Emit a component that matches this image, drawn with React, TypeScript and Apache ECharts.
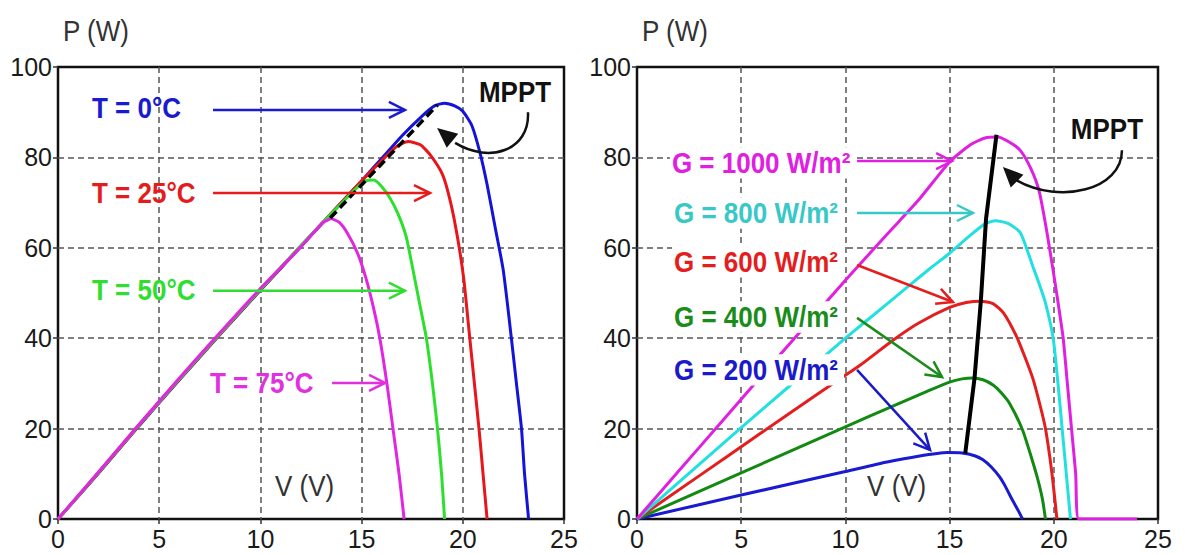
import React, { useEffect, useRef } from "react";
import * as echarts from "echarts";

const FONT = '"Liberation Sans", Arial, Helvetica, sans-serif';

// ---- Left chart: P–V curves for several temperatures ----
const t0Curve = [[0,0],[2,10.1],[4,20.6],[6,30.8],[8,40.8],[10,50.6],[12,60.3],[14,70],[15,74.8],[16,79.8],[17,84.8],[18,89.2],[18.6,91.4],[19.1,92],[19.6,91.4],[20,90.2],[20.45,87],[20.85,81],[21.2,74],[21.6,64.5],[22,55],[22.4,40],[22.65,30],[22.9,20],[23.05,10],[23.25,0]];
const t25Curve = [[0,0],[2,10.2],[4,20.7],[6,30.9],[8,40.9],[10,50.7],[12,60.4],[14,70],[15,74.8],[16,79.3],[16.7,82.3],[17.3,83.5],[17.9,82.8],[18.4,80.5],[19,76.2],[19.4,70],[19.75,62],[20.05,53],[20.3,42],[20.55,31],[20.8,20],[21.0,10],[21.2,0]];
const t50Curve = [[0,0],[2,10.3],[4,20.8],[6,31],[8,41],[10,50.8],[12,60.5],[13,65.2],[14,69.8],[14.7,73],[15.2,74.8],[15.6,75],[16,73.5],[16.4,71],[16.8,67.5],[17.2,62.5],[17.5,56],[17.85,48],[18.2,40],[18.5,30],[18.75,20],[18.95,10],[19.1,0]];
const t75Curve = [[0,0],[2,10.4],[4,20.9],[6,31.2],[8,41.2],[10,51],[11,55.6],[12,60.2],[12.6,63.2],[13.1,65.6],[13.5,66.4],[13.9,65.6],[14.3,63.2],[14.8,58.8],[15.2,53.5],[15.6,46.5],[15.9,40],[16.25,30],[16.55,20],[16.85,10],[17.1,0]];
const mpptTemp = [[13.45,66.6],[18.75,91.6]];

// ---- Right chart: P–V curves for several irradiances ----
const g1000Curve = [[0,0],[2,10.6],[4,21.2],[6,31.8],[8,42.3],[10,52.8],[12,63],[13.5,70.5],[15,79],[16,82.8],[16.7,84.3],[17.3,84.5],[17.9,83.3],[18.4,81.5],[18.9,77.5],[19.3,72.5],[19.65,64],[19.95,55.5],[20.2,48],[20.45,40],[20.65,30],[20.85,20],[21.05,10],[21.2,0],[24,0]];
const g800Curve = [[0,0],[2,8.1],[4,16.2],[6,24.2],[8,32.1],[10,40],[12,47.6],[14,55.2],[15,58.8],[16,62.8],[16.7,65.3],[17.2,66],[17.8,65.4],[18.4,63.3],[19,55.8],[19.3,52],[19.6,47.8],[19.97,40],[20.2,30],[20.4,20],[20.6,10],[20.8,0]];
const g600Curve = [[0,0],[3,9.6],[6,19.2],[9,28.7],[10.7,34],[12.3,39.6],[13.5,43.3],[15,46.8],[15.8,47.9],[16.5,48.2],[17.1,47.6],[17.6,45.5],[18.2,40.5],[18.6,36],[19,31],[19.35,25],[19.6,20],[19.9,10.5],[20.15,0]];
const g400Curve = [[0,0],[5,10.2],[10,20.4],[12,24.4],[14,28.4],[15,30.3],[15.6,31],[16.1,31.2],[16.6,30.8],[17.1,29.6],[17.5,27.8],[17.9,25.4],[18.5,19.7],[18.9,14],[19.2,9.3],[19.45,4.5],[19.6,0]];
const g200Curve = [[0,0],[5,5.3],[10,10.5],[12,12.6],[13.5,13.9],[14.9,14.7],[15.6,14.6],[16.2,14],[16.6,13.1],[17,11.5],[17.4,9.3],[17.7,7],[18,4.3],[18.3,1.8],[18.5,0]];
const mpptIrr = [[15.75,14.5],[16.2,31.3],[16.5,48.3],[16.75,66.5],[17.25,85]];

// axis ranges / tick step
const xRange = [0, 25];
const xStep = 5;
const yRange = [0, 100];
const yStep = 20;

const axisTitleY = "P (W)";
const axisTitleX = "V (V)";

// annotation labels (data coordinates)
const tempLabels = [
  { text: "T = 0°C", color: "#1a1ad0", at: [1.68, 90.9], from: [7.66, 90.5], to: [17.14, 90.5] },
  { text: "T = 25°C", color: "#e41c1c", at: [1.68, 72.1], from: [7.66, 72.1], to: [18.38, 72.1] },
  { text: "T = 50°C", color: "#30dd30", at: [1.68, 50.7], from: [7.66, 50.5], to: [17.14, 50.5] },
  { text: "T = 75°C", color: "#e030e0", at: [7.51, 30.1], from: [13.54, 30.1], to: [16.16, 30.1] },
];
const irrLabels = [
  { text: "G = 1000 W/m²", color: "#e020e0", at: [1.58, 78.8], from: [10.56, 79.2], to: [15.12, 79.2] },
  { text: "G = 800 W/m²", color: "#38c8c8", at: [1.68, 67.7], from: [10.56, 67.7], to: [16.12, 67.7] },
  { text: "G = 600 W/m²", color: "#e41e1e", at: [1.68, 56.9], from: [10.56, 56.2], to: [15.16, 48.0] },
  { text: "G = 400 W/m²", color: "#1a8c1a", at: [1.68, 44.7], from: [10.56, 44.5], to: [14.64, 31.4] },
  { text: "G = 200 W/m²", color: "#1a1ac8", at: [1.68, 33.0], from: [10.56, 33.0], to: [14.06, 15.3] },
];
const mpptLeft = { text: "MPPT", at: [22.58, 94.5], start: [23.22, 90.0], cp1: [23.32, 81.6], cp2: [21.34, 78.5], end: [19.62, 83.2], tip: [18.73, 86.5] };
const mpptRight = { text: "MPPT", at: [22.55, 86.3], start: [23.27, 81.6], cp1: [23.27, 72.8], cp2: [20.3, 69.5], end: [18.19, 75.0], tip: [17.56, 77.9] };
const vTitleAt = [[10.72, 7.3], [11.04, 7.3]];

function makeAxes(gi: number) {
  const common = {
    gridIndex: gi,
    type: "value" as const,
    axisLine: { show: false },
    axisTick: { show: true, inside: false, length: 5, lineStyle: { color: "#333", width: 1.5 } },
    splitLine: {
      show: true,
      showMinLine: false,
      showMaxLine: false,
      lineStyle: { color: "#555", width: 1.5, type: [6, 4] },
    },
    axisLabel: { fontSize: 25, color: "#1a1a1a", fontFamily: FONT, margin: 7 },
  };
  return {
    x: { ...common, min: xRange[0], max: xRange[1], interval: xStep },
    y: { ...common, min: yRange[0], max: yRange[1], interval: yStep, axisLabel: { ...common.axisLabel, margin: 6 } },
  };
}

function lineSeries(data: number[][], color: string, gi: number, extra: any = {}) {
  return {
    type: "line",
    data,
    xAxisIndex: gi,
    yAxisIndex: gi,
    showSymbol: false,
    smooth: 0.2,
    lineStyle: { color, width: 3 },
    itemStyle: { color },
    z: 3,
    ...extra,
  };
}

export default function App() {
  const ref = useRef<HTMLDivElement>(null);
  useEffect(() => {
    if (!ref.current) return;
    const chart = echarts.init(ref.current, null, { renderer: "svg" });
    const a0 = makeAxes(0);
    const a1 = makeAxes(1);
    const gridStyle = { show: true, borderColor: "#111", borderWidth: 2.5, backgroundColor: "#fff" };
    chart.setOption({
      animation: false,
      backgroundColor: "#fff",
      grid: [
        { left: 58, top: 67, width: 506, height: 452, ...gridStyle },
        { left: 637, top: 67, width: 521, height: 452, ...gridStyle },
      ],
      xAxis: [a0.x, a1.x],
      yAxis: [a0.y, a1.y],
      series: [
        lineSeries(t0Curve, "#1414d8", 0),
        lineSeries(t25Curve, "#e8161a", 0),
        lineSeries(t50Curve, "#2ee02e", 0),
        lineSeries(t75Curve, "#e026e0", 0),
        lineSeries(mpptTemp, "#000", 0, { smooth: false, lineStyle: { color: "#000", width: 3.5, type: [9, 5] }, z: 4 }),
        lineSeries(g200Curve, "#1a1ad0", 1),
        lineSeries(g400Curve, "#128a12", 1),
        lineSeries(g600Curve, "#e41e1e", 1),
        lineSeries(g800Curve, "#22e0e0", 1),
        lineSeries(g1000Curve, "#e020e0", 1),
        lineSeries(mpptIrr, "#000", 1, { smooth: false, lineStyle: { color: "#000", width: 4 }, z: 4 }),
      ],
    });

    const px = (gi: number, p: number[]) => chart.convertToPixel({ gridIndex: gi }, p) as number[];
    const g: any[] = [];
    const Z = 50;
    const SY = 1.12;

    const openArrow = (s: number[], t: number[], color: string) => {
      const dx = t[0] - s[0], dy = t[1] - s[1];
      const len = Math.hypot(dx, dy);
      const ux = dx / len, uy = dy / len;
      const L = 16, W = 8;
      const bx = t[0] - ux * L, by = t[1] - uy * L;
      g.push({ type: "line", z: Z, shape: { x1: s[0], y1: s[1], x2: t[0], y2: t[1] }, style: { stroke: color, lineWidth: 2.5 } });
      g.push({
        type: "polyline", z: Z,
        shape: { points: [[bx - uy * W, by + ux * W], [t[0], t[1]], [bx + uy * W, by - ux * W]] },
        style: { stroke: color, lineWidth: 2.5, fill: "none" },
      });
    };

    const label = (gi: number, l: any, fontSize: number, bg: boolean) => {
      const p = px(gi, l.at);
      g.push({
        type: "text", z: Z + 1, x: p[0], y: p[1], scaleY: SY,
        style: {
          text: l.text, fill: l.color, fontSize, fontWeight: "bold", fontFamily: FONT,
          align: "left", verticalAlign: "middle",
          ...(bg ? { backgroundColor: "#fff", padding: [1, 6, 1, 2] } : {}),
        },
      });
      openArrow(px(gi, l.from), px(gi, l.to), l.color);
    };

    const mppt = (gi: number, m: any) => {
      const c = px(gi, m.at);
      g.push({
        type: "text", z: Z, x: c[0], y: c[1], scaleY: SY,
        style: { text: m.text, fill: "#111", fontSize: 26, fontWeight: "bold", fontFamily: FONT, align: "center", verticalAlign: "middle" },
      });
      const s = px(gi, m.start), c1 = px(gi, m.cp1), c2 = px(gi, m.cp2), e = px(gi, m.end), t = px(gi, m.tip);
      g.push({
        type: "bezierCurve", z: Z,
        shape: { x1: s[0], y1: s[1], cpx1: c1[0], cpy1: c1[1], cpx2: c2[0], cpy2: c2[1], x2: e[0], y2: e[1] },
        style: { stroke: "#111", lineWidth: 2.5, fill: "none" },
      });
      const dx = t[0] - e[0], dy = t[1] - e[1];
      const len = Math.hypot(dx, dy);
      const ux = dx / len, uy = dy / len;
      const L = 20, W = 9;
      const bx = t[0] - ux * L, by = t[1] - uy * L;
      g.push({
        type: "polygon", z: Z,
        shape: { points: [[t[0], t[1]], [bx - uy * W, by + ux * W], [bx + uy * W, by - ux * W]] },
        style: { fill: "#111" },
      });
    };

    tempLabels.forEach((l) => label(0, l, 26, false));
    irrLabels.forEach((l) => label(1, l, 26, true));
    mppt(0, mpptLeft);
    mppt(1, mpptRight);

    // axis titles
    const yTitleLeft = px(0, [0, 100]);
    const yTitleRight = px(1, [0, 100]);
    [yTitleLeft, yTitleRight].forEach((p) => {
      g.push({
        type: "text", z: Z, x: p[0] + 5, y: p[1] - 36, scaleY: SY,
        style: { text: axisTitleY, fill: "#333", fontSize: 26, fontFamily: FONT, align: "left", verticalAlign: "middle" },
      });
    });
    vTitleAt.forEach((v, gi) => {
      const p = px(gi, v);
      g.push({
        type: "text", z: Z, x: p[0], y: p[1], scaleY: SY,
        style: { text: axisTitleX, fill: "#333", fontSize: 26, fontFamily: FONT, align: "left", verticalAlign: "middle" },
      });
    });

    chart.setOption({ graphic: g });
    return () => chart.dispose();
  }, []);

  return <div ref={ref} style={{ position: "absolute", left: 0, top: 0, width: 1185, height: 555 }} />;
}
